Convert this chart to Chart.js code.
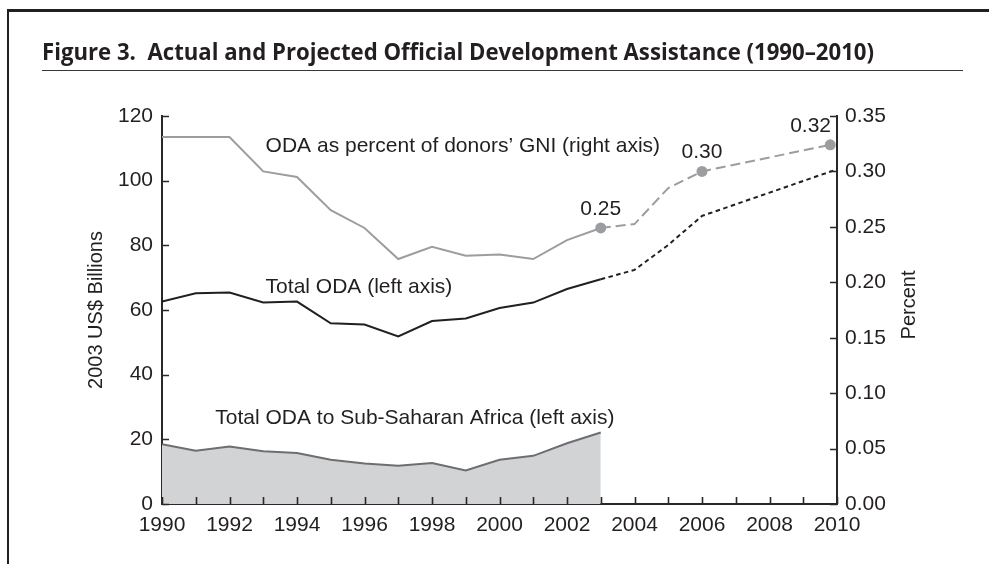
<!DOCTYPE html>
<html>
<head>
<meta charset="utf-8">
<script src="https://cdn.jsdelivr.net/npm/chart.js@4.4.1/dist/chart.umd.min.js"></script>
<style>
  html, body { margin: 0; padding: 0; background: #ffffff; }
  #wrap { position: relative; width: 989px; height: 564px; overflow: hidden; background: #fff; }
  #chart { position: absolute; left: 0; top: 0; }
  #frame { position: absolute; left: 7px; top: 9px; width: 990px; height: 570px;
           border-top: 3px solid #231f20; border-left: 2.5px solid #231f20; box-sizing: border-box; }
  #title { position: absolute; left: 42px; top: 38px; white-space: nowrap;
           font-family: "Open Sans", "Noto Sans", sans-serif; font-weight: 700; font-size: 23.5px;
           line-height: 26px; color: #231f20; transform-origin: 0 0; }
  #rule { position: absolute; left: 42px; top: 70px; width: 921px; height: 0;
          border-top: 1.6px solid #3a3637; }
</style>
</head>
<body>
<div id="wrap">
  <canvas id="chart" width="989" height="564"></canvas>
  <div id="frame"></div>
  <div id="title"><span id="titleText">Figure 3.&nbsp; Actual and Projected Official Development Assistance (1990–2010)</span></div>
  <div id="rule"></div>
</div>
<script>
// ---------------- data ----------------
const years = [1990, 1991, 1992, 1993, 1994, 1995, 1996, 1997, 1998, 1999, 2000, 2001, 2002, 2003];
const totalOda = [62.6, 65.2, 65.4, 62.3, 62.6, 55.9, 55.5, 51.8, 56.6, 57.4, 60.6, 62.3, 66.5, 69.5];
const africaOda = [18.5, 16.5, 17.8, 16.3, 15.8, 13.7, 12.5, 11.8, 12.7, 10.4, 13.7, 14.9, 18.8, 22.1];
const gniPct = [0.331, 0.331, 0.331, 0.300, 0.295, 0.265, 0.249, 0.221, 0.232, 0.224, 0.225, 0.221, 0.238, 0.249];

const projYears = [2003, 2004, 2005, 2006, 2007, 2008, 2009, 2010];
const totalOdaProj = [69.5, 72.4, 80.1, 89.1, 92.7, 96.3, 99.9, 103.5];

const gniProjYears = [2003, 2004, 2005, 2006, 2009.8];
const gniPctProj = [0.249, 0.2525, 0.285, 0.300, 0.324];

const markerYears = [2003, 2006, 2009.8];
const markerValues = [0.249, 0.300, 0.324];
const markerLabels = ["0.25", "0.30", "0.32"];

const xTickYears = [1990, 1991, 1992, 1993, 1994, 1995, 1996, 1997, 1998, 1999, 2000,
                    2001, 2002, 2003, 2004, 2005, 2006, 2007, 2008, 2009, 2010];
const xLabelYears = [1990, 1992, 1994, 1996, 1998, 2000, 2002, 2004, 2006, 2008, 2010];
const leftTicks = [0, 20, 40, 60, 80, 100, 120];
const rightTicks = [0, 0.05, 0.10, 0.15, 0.20, 0.25, 0.30, 0.35];

const leftAxisTitle = "2003 US$ Billions";
const rightAxisTitle = "Percent";
const seriesNotes = [
  { text: "ODA as percent of donors\u2019 GNI (right axis)", year: 1993.07, value: 108.8 },
  { text: "Total ODA (left axis)", year: 1993.07, value: 65.2 },
  { text: "Total ODA to Sub-Saharan Africa (left axis)", year: 1991.58, value: 24.7 }
];

// ---------------- style ----------------
const INK = "#231f20";
const BLACK = "#231f20";
const GREY = "#9b9da0";
const AREA_FILL = "#d1d3d4";
const AREA_LINE = "#6d6e71";
const FONT = '"Liberation Sans", Arial, Helvetica, sans-serif';

// fit the condensed-looking title
(function () {
  const t = document.getElementById("title");
  const w = document.getElementById("titleText").getBoundingClientRect().width;
  t.style.transform = "scaleX(" + (832 / w) + ")";
})();

const pts = (xs, ys) => xs.map((x, i) => ({ x: x, y: ys[i] }));

const decor = {
  id: "decor",
  afterDatasetsDraw(chart) {
    const ctx = chart.ctx;
    const x = chart.scales.x, y = chart.scales.y, y2 = chart.scales.y2;
    const a = chart.chartArea;
    ctx.save();
    // inward tick marks
    ctx.strokeStyle = "#2b2728";
    ctx.lineWidth = 1.6;
    ctx.beginPath();
    xTickYears.forEach(v => {
      const px = Math.round(x.getPixelForValue(v)) + 0.5;
      ctx.moveTo(px, a.bottom); ctx.lineTo(px, a.bottom - 7);
    });
    leftTicks.forEach(v => {
      const py = Math.round(y.getPixelForValue(v)) + 0.5;
      ctx.moveTo(a.left, py); ctx.lineTo(a.left + 7, py);
    });
    rightTicks.forEach(v => {
      const py = Math.round(y2.getPixelForValue(v)) + 0.5;
      ctx.moveTo(a.right, py); ctx.lineTo(a.right - 7, py);
    });
    ctx.stroke();

    // series notes
    ctx.fillStyle = INK;
    ctx.font = "21px " + FONT;
    ctx.textBaseline = "alphabetic";
    ctx.textAlign = "left";
    seriesNotes.forEach(n => {
      ctx.fillText(n.text, x.getPixelForValue(n.year), y.getPixelForValue(n.value));
    });

    // marker value labels
    ctx.textAlign = "center";
    markerYears.forEach((yr, i) => {
      let px = x.getPixelForValue(yr);
      const py = y2.getPixelForValue(markerValues[i]) - 13;
      const half = ctx.measureText(markerLabels[i]).width / 2;
      if (px + half > a.right - 6) px = a.right - 6 - half;
      ctx.fillText(markerLabels[i], px, py);
    });

    // axis titles
    ctx.font = "20px " + FONT;
    ctx.textBaseline = "middle";
    ctx.save();
    ctx.translate(a.left - 66, (a.top + a.bottom) / 2);
    ctx.rotate(-Math.PI / 2);
    ctx.fillText(leftAxisTitle, 0, 0);
    ctx.restore();
    ctx.save();
    ctx.translate(a.right + 72, (a.top + a.bottom) / 2 - 5);
    ctx.rotate(-Math.PI / 2);
    ctx.fillText(rightAxisTitle, 0, 0);
    ctx.restore();
    ctx.restore();
  }
};

new Chart(document.getElementById("chart"), {
  type: "line",
  data: {
    datasets: [
      { label: "Total ODA to Sub-Saharan Africa", data: pts(years, africaOda), yAxisID: "y",
        fill: "origin", backgroundColor: AREA_FILL, borderColor: AREA_LINE, borderWidth: 2,
        pointRadius: 0, tension: 0, order: 10 },
      { label: "Total ODA", data: pts(years, totalOda), yAxisID: "y",
        borderColor: BLACK, borderWidth: 2, pointRadius: 0, fill: false, order: 2 },
      { label: "Total ODA (projected)", data: pts(projYears, totalOdaProj), yAxisID: "y",
        borderColor: BLACK, borderWidth: 2, borderDash: [4.5, 3.5], pointRadius: 0, fill: false, order: 2 },
      { label: "ODA as percent of donors' GNI", data: pts(years, gniPct), yAxisID: "y2",
        borderColor: GREY, borderWidth: 2, pointRadius: 0, fill: false, order: 3 },
      { label: "ODA as percent of donors' GNI (projected)", data: pts(gniProjYears, gniPctProj), yAxisID: "y2",
        borderColor: GREY, borderWidth: 2, borderDash: [10, 5], pointRadius: 0, fill: false, order: 3 },
      { label: "Marked values", data: pts(markerYears, markerValues), yAxisID: "y2",
        showLine: false, pointRadius: 5.5, pointBackgroundColor: GREY, pointBorderWidth: 0,
        borderColor: GREY, order: 1 }
    ]
  },
  options: {
    responsive: false,
    devicePixelRatio: 1,
    animation: false,
    events: [],
    layout: { padding: { top: 116, left: 0, right: 0, bottom: 0 } },
    plugins: { legend: { display: false }, tooltip: { enabled: false }, title: { display: false } },
    scales: {
      x: {
        type: "linear", min: 1990, max: 2010,
        afterBuildTicks: s => { s.ticks = xTickYears.map(v => ({ value: v })); },
        afterFit: s => { s.height = 60; },
        grid: { drawOnChartArea: false, drawTicks: false },
        border: { display: true, color: "#2b2728", width: 2 },
        ticks: { autoSkip: false, maxRotation: 0, padding: 9, color: INK,
                 font: { family: FONT, size: 21 },
                 callback: v => xLabelYears.includes(v) ? String(v) : "" }
      },
      y: {
        type: "linear", position: "left", min: 0, max: 120,
        afterBuildTicks: s => { s.ticks = leftTicks.map(v => ({ value: v })); },
        afterFit: s => { s.width = 162; },
        grid: { drawOnChartArea: false, drawTicks: false },
        border: { display: true, color: "#2b2728", width: 2 },
        ticks: { padding: 9, color: INK, font: { family: FONT, size: 21 },
                 callback: v => String(v) }
      },
      y2: {
        type: "linear", position: "right", min: 0, max: 0.35,
        afterBuildTicks: s => { s.ticks = rightTicks.map(v => ({ value: v })); },
        afterFit: s => { s.width = 152; },
        grid: { drawOnChartArea: false, drawTicks: false },
        border: { display: true, color: "#2b2728", width: 2 },
        ticks: { padding: 8, color: INK, font: { family: FONT, size: 21 },
                 callback: v => Number(v).toFixed(2) }
      }
    }
  },
  plugins: [decor]
});
</script>
</body>
</html>
